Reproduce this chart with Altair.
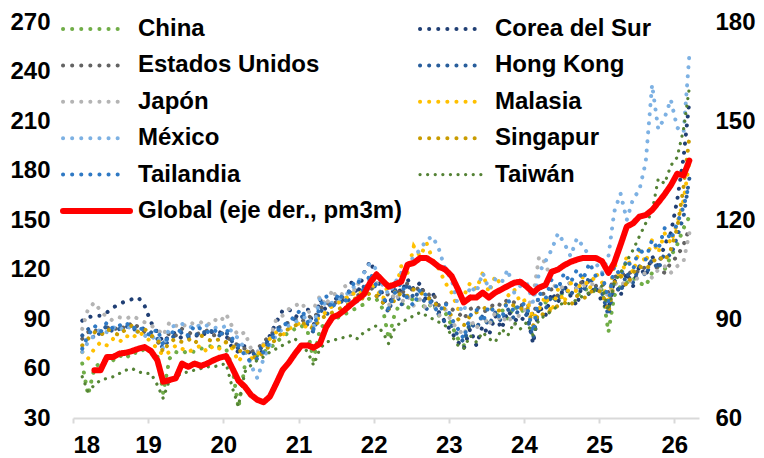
import altair as alt
import pandas as pd

# ---------------- data (left axis, index values; monthly Feb-2018 .. Mar-2026) ----------------
series_names = ["China", "Corea del Sur", "Estados Unidos", "Hong Kong", "Japón", "Malasia",
                "México", "Singapur", "Tailandia", "Taiwán", "Global (eje der., pm3m)"]

china = [63, 44, 60, 64, 66, 65, 68, 66, 70, 69, 72,
         71, 68, 45, 66, 70, 69, 71, 70, 72, 73, 74, 73,
         72, 60, 36, 62, 66, 68, 70, 72, 76, 79, 82, 84,
         86, 82, 65, 84, 88, 90, 91, 93, 95, 97, 99, 103,
         102, 96, 78, 94, 100, 96, 104, 100, 96, 100, 92, 94,
         86, 78, 74, 88, 84, 92, 86, 90, 96, 90, 98, 94,
         97, 82, 95, 100, 102, 104, 106, 105, 104, 107, 109, 106,
         108, 82, 104, 110, 112, 115, 112, 110, 118, 122, 120, 128,
         135, 145, 152]
corea = [89, 91, 92, 92, 94, 97, 99, 101, 102, 103, 98,
         88, 82, 76, 80, 82, 78, 80, 79, 82, 80, 83, 82,
         80, 72, 70, 74, 68, 66, 72, 80, 88, 95, 96, 92,
         90, 96, 86, 102, 95, 100, 104, 99, 112, 105, 118, 125,
         116, 104, 96, 112, 106, 114, 108, 112, 100, 106, 94, 88,
         82, 76, 72, 84, 74, 86, 80, 92, 84, 95, 90, 88,
         94, 75, 98, 92, 106, 100, 110, 104, 98, 114, 104, 110,
         100, 96, 114, 104, 118, 110, 122, 116, 128, 122, 135, 142,
         162, 188, 222]
eeuu = [78, 82, 84, 80, 85, 83, 86, 84, 88, 85, 82,
        80, 76, 74, 82, 80, 84, 82, 80, 82, 83, 80, 82,
        80, 76, 74, 72, 70, 72, 76, 80, 84, 86, 88, 90,
        88, 92, 90, 96, 100, 98, 102, 104, 106, 104, 108, 110,
        104, 100, 106, 110, 104, 112, 106, 110, 104, 106, 98, 100,
        96, 94, 90, 96, 98, 94, 96, 100, 98, 102, 100, 98,
        100, 92, 104, 106, 108, 104, 110, 112, 108, 114, 112, 110,
        112, 106, 115, 118, 116, 120, 118, 122, 125, 120, 118, 124,
        128, 135, 145]
hongkong = [80, 84, 78, 82, 86, 82, 84, 86, 83, 85, 84,
            82, 78, 72, 78, 80, 82, 79, 81, 80, 84, 82, 80,
            82, 76, 72, 70, 68, 70, 74, 78, 84, 86, 88, 90,
            92, 86, 82, 96, 92, 98, 104, 96, 106, 100, 110, 114,
            108, 100, 94, 108, 98, 112, 102, 108, 96, 102, 92, 88,
            86, 80, 76, 88, 84, 92, 86, 94, 88, 96, 90, 98,
            92, 78, 100, 96, 104, 100, 110, 104, 112, 106, 116, 108,
            106, 92, 112, 106, 118, 112, 122, 116, 126, 120, 130, 128,
            140, 152, 175]
japon = [84, 96, 100, 95, 91, 89, 91, 90, 92, 90, 88,
         86, 84, 80, 88, 86, 85, 88, 87, 88, 86, 90, 88,
         93, 85, 80, 82, 72, 70, 75, 78, 90, 92, 96, 98,
         100, 94, 96, 104, 98, 108, 100, 110, 104, 112, 106, 110,
         112, 102, 98, 106, 100, 104, 98, 102, 96, 100, 92, 96,
         88, 84, 80, 90, 84, 92, 86, 94, 88, 92, 86, 94,
         96, 104, 128, 124, 112, 108, 110, 112, 108, 110, 112, 110,
         108, 104, 112, 110, 114, 112, 116, 118, 115, 120, 122, 118,
         122, 125, 142]
malasia = [70, 66, 72, 76, 74, 78, 76, 80, 78, 82, 80,
           76, 72, 68, 70, 74, 72, 70, 72, 74, 70, 74, 72,
           76, 72, 64, 70, 66, 68, 74, 78, 82, 80, 84, 86,
           88, 84, 86, 92, 94, 98, 100, 102, 106, 104, 108, 112,
           108, 102, 112, 106, 122, 118, 134, 128, 136, 126, 120, 112,
           106, 96, 104, 112, 108, 118, 106, 116, 110, 104, 108, 100,
           102, 90, 96, 104, 94, 108, 100, 112, 106, 116, 108, 118,
           112, 100, 124, 114, 128, 118, 132, 124, 138, 130, 142, 136,
           148, 162, 185]
mexico = [70, 76, 80, 84, 82, 85, 83, 86, 84, 82, 80,
          78, 80, 72, 85, 86, 87, 86, 84, 87, 86, 85, 84,
          86, 82, 78, 72, 62, 54, 66, 74, 80, 84, 86, 88,
          90, 92, 85, 103, 98, 100, 102, 104, 108, 112, 118, 124,
          120, 110, 105, 112, 118, 122, 128, 132, 138, 140, 132, 120,
          114, 98, 94, 110, 106, 118, 108, 114, 112, 120, 106, 110,
          112, 100, 118, 125, 132, 142, 136, 128, 139, 134, 128, 124,
          118, 128, 155, 166, 150, 163, 168, 185, 232, 205, 212, 223,
          206, 203, 250]
singapur = [74, 78, 82, 80, 84, 82, 80, 84, 86, 82, 84,
            80, 78, 70, 76, 78, 76, 78, 75, 80, 78, 76, 78,
            76, 74, 70, 72, 68, 66, 70, 74, 78, 82, 84, 86,
            88, 86, 84, 90, 92, 94, 96, 98, 100, 104, 102, 106,
            104, 100, 96, 102, 106, 104, 108, 106, 104, 100, 98, 96,
            92, 90, 86, 92, 94, 96, 98, 94, 96, 100, 98, 96,
            98, 86, 94, 92, 96, 98, 100, 98, 104, 102, 106, 108,
            106, 94, 112, 116, 110, 118, 122, 120, 124, 128, 125, 132,
            145, 170, 200]
tailandia = [72, 80, 86, 82, 88, 84, 86, 88, 84, 86, 82,
             80, 84, 74, 80, 84, 82, 80, 86, 84, 82, 84, 80,
             84, 78, 74, 68, 64, 66, 70, 76, 82, 86, 88, 92,
             96, 88, 84, 98, 104, 96, 106, 100, 110, 114, 106, 118,
             110, 104, 96, 106, 112, 102, 98, 108, 104, 98, 94, 100,
             90, 84, 78, 92, 96, 88, 98, 94, 90, 102, 94, 100,
             98, 82, 106, 102, 114, 108, 118, 112, 120, 114, 124, 116,
             118, 100, 122, 116, 126, 120, 134, 126, 138, 132, 145, 138,
             148, 158, 172]
taiwan = [55, 46, 50, 53, 54, 55, 57, 59, 60, 58, 57,
          57, 50, 42, 53, 55, 57, 58, 59, 60, 61, 61, 62,
          63, 48, 37, 58, 62, 65, 67, 70, 72, 74, 76, 78,
          74, 70, 62, 72, 76, 77, 78, 79, 80, 78, 82, 84,
          86, 82, 75, 85, 88, 90, 92, 94, 92, 90, 88, 86,
          80, 74, 72, 80, 76, 82, 78, 76, 84, 80, 88, 84,
          88, 80, 90, 92, 95, 98, 100, 99, 102, 104, 106, 108,
          110, 95, 112, 118, 125, 132, 140, 148, 155, 175, 172, 183,
          188, 205, 230]

# Global, right axis (pm3m), Apr-2018 .. Mar-2026
global_pm3m = [74.5, 74.5, 78.5, 78.5, 79.5, 79.8, 80.3, 81, 81.5,
               80.3, 77.5, 71, 71.5, 72, 76.5, 75.5, 76.5, 75.8, 76.5, 77.5, 78.3,
               78.8, 75, 71.3, 69.5, 67, 65.5, 64.8, 66.5, 70.5, 74.5, 76.8, 79.5,
               82, 82, 81.3, 82.5, 87.5, 90.5, 91.3, 92.8, 94.5, 96, 97.5, 101,
               103.5, 101.5, 99.8, 100.5, 101.3, 106.5, 107, 108.5, 108.5, 107.3, 105.8, 105,
               103, 99, 95, 96.5, 96.5, 98, 96.5, 98, 99, 100, 101, 101.3,
               99.8, 98, 99.5, 100.3, 104.3, 105, 106.3, 107.3, 108, 108.5, 108.5, 108.5,
               107.5, 104, 107, 112.5, 118, 119, 121, 121.5, 123, 125.3, 127.8, 130.5,
               134, 133.5, 138]

series_values = [china, corea, eeuu, hongkong, japon, malasia, mexico, singapur, tailandia, taiwan]

# ---------------- tables ----------------
dates = pd.date_range("2018-02-01", periods=len(china), freq="MS") + pd.Timedelta(days=14)
rows = []
for name, vals in zip(series_names[:-1], series_values):
    for d, v in zip(dates, vals):
        rows.append({"fecha": d, "serie": name, "valor": v})
df_dots = pd.DataFrame(rows)
df_global = pd.DataFrame({"fecha": dates[2:], "serie": series_names[-1], "valor": global_pm3m})
df_legend = pd.DataFrame({"serie": series_names, "idx": list(range(len(series_names)))})

# ---------------- style ----------------
FONT = "Liberation Sans"
colors = ["#70AD47", "#203F74", "#636363", "#285E9C", "#B4B4B4", "#FFC000",
          "#7DB1E3", "#C99C00", "#2F79C4", "#548235", "#FF0000"]
dashes = [[0.1, 9.0]] * 9 + [[0.1, 7.5]] + [[1, 0]]
widths = [4.0] * 9 + [3.2] + [6.0]

stroke = alt.Stroke("serie:N", scale=alt.Scale(domain=series_names, range=colors), legend=None)
dash = alt.StrokeDash("serie:N", scale=alt.Scale(domain=series_names, range=dashes), legend=None)
width = alt.StrokeWidth("serie:N", scale=alt.Scale(type="ordinal", domain=series_names, range=widths),
                        legend=None)

x = alt.X("fecha:T",
          scale=alt.Scale(domain=[alt.DateTime(year=2018, month=1, date=1),
                                  alt.DateTime(year=2026, month=5, date=1)]),
          axis=alt.Axis(title=None, format="%y", grid=False,
                        values=[alt.DateTime(year=y, month=1, date=1) for y in range(2018, 2027)],
                        domainColor="#D9D9D9", domainWidth=2, tickColor="#D9D9D9", tickWidth=2,
                        tickSize=5, labelPadding=10, labelFont=FONT, labelFontSize=24,
                        labelFontWeight="bold", labelColor="#000000"))

left = alt.Chart(df_dots).mark_line(strokeCap="round").encode(
    x=x,
    y=alt.Y("valor:Q", scale=alt.Scale(domain=[30, 270], nice=False, zero=False),
            axis=alt.Axis(title=None, values=list(range(30, 271, 30)), grid=False, domain=False,
                          ticks=False, labelPadding=23, labelFont=FONT, labelFontSize=24,
                          labelFontWeight="bold", labelColor="#000000")),
    stroke=stroke, strokeDash=dash, strokeWidth=width,
)

right = alt.Chart(df_global).mark_line(strokeJoin="round", strokeCap="round").encode(
    x=x,
    y=alt.Y("valor:Q", scale=alt.Scale(domain=[60, 180], nice=False, zero=False),
            axis=alt.Axis(title=None, orient="right", values=list(range(60, 181, 30)), grid=False,
                          domain=False, ticks=False, labelPadding=16, labelFont=FONT,
                          labelFontSize=24, labelFontWeight="bold", labelColor="#000000")),
    stroke=stroke, strokeDash=dash, strokeWidth=width,
)

# legend: two columns, row-major, drawn in the top-left of the plot
legend_base = alt.Chart(df_legend).transform_calculate(
    x0="datum.idx == 10 ? -10 : -10 + (datum.idx % 2) * 357",
    x1="datum.idx == 10 ? 57 : (datum.idx == 9 ? datum.x0 + 61 : datum.x0 + 58)",
    xt="(datum.idx == 10 ? -10 : -10 + (datum.idx % 2) * 357) + 75",
    yy="7 + floor(datum.idx / 2) * 36.4",
)
legend_swatch = legend_base.mark_rule(strokeCap="round").encode(
    x=alt.X("x0:Q", scale=None), x2="x1:Q", y=alt.Y("yy:Q", scale=None),
    stroke=stroke, strokeDash=dash, strokeWidth=width,
)
legend_text = legend_base.mark_text(align="left", baseline="middle", font=FONT, fontSize=24,
                                    fontWeight="bold", color="#000000").encode(
    x=alt.X("xt:Q", scale=None), y=alt.Y("yy:Q", scale=None), text="serie:N",
)

chart = alt.layer(left, right, legend_swatch, legend_text).resolve_scale(y="independent").properties(
    width=626, height=396,
    autosize=alt.AutoSizeParams(type="none"),
    padding={"left": 65, "top": 14, "right": 57, "bottom": 40},
    background="#FFFFFF",
).configure_view(stroke=None)

chart.save("out.html", embed_options={"renderer": "svg", "actions": False})
